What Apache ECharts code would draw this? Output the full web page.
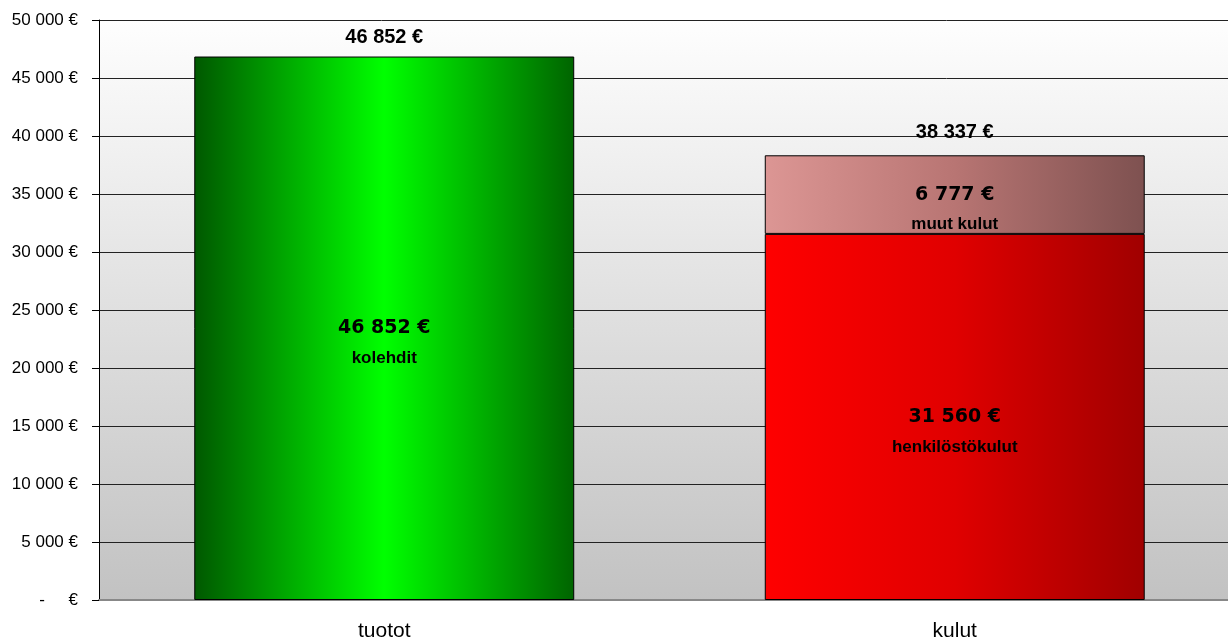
<!DOCTYPE html>
<html>
<head>
<meta charset="utf-8">
<script src="https://cdn.jsdelivr.net/npm/echarts@6/dist/echarts.min.js"></script>
<style>
html,body{margin:0;padding:0;background:#fff;}
#chart{width:1228px;height:643px;}
</style>
</head>
<body>
<div id="chart"></div>
<script>
const categories = ['tuotot', 'kulut'];
const kolehdit = [46852, null];
const henkilostokulut = [null, 31560];
const muutKulut = [null, 6777];
const totals = [46852, 38337];
const seriesNames = ['kolehdit', 'henkilöstökulut', 'muut kulut'];
const yMin = 0, yMax = 50000, yStep = 5000;

function fmt(n) {
  return String(n).replace(/\B(?=(\d{3})+(?!\d))/g, ' ') + ' €';
}

const chart = echarts.init(document.getElementById('chart'));

function grad(stops) {
  return new echarts.graphic.LinearGradient(0, 0, 1, 0, stops.map((c, i) => ({offset: i / (stops.length - 1), color: c})));
}

function innerLabel(name) {
  return {
    show: true,
    position: 'inside',
    offset: [0, 15],
    formatter: p => '{v|' + fmt(p.value) + '}\n{n|' + name + '}',
    rich: {
      v: {fontFamily: 'DejaVu Sans', fontWeight: 'bold', fontSize: 19, lineHeight: 30, color: '#000'},
      n: {fontFamily: 'Liberation Sans, Arial', fontWeight: 'bold', fontSize: 17, lineHeight: 30, color: '#000'}
    }
  };
}

const totalOffsets = [[0, -19], [0, -23]];

const option = {
  animation: false,
  backgroundColor: '#ffffff',
  grid: {
    left: 99, width: 1141, top: 20, bottom: 43,
    outerBoundsMode: 'none',
    containLabel: false,
    show: true,
    borderWidth: 0,
    backgroundColor: new echarts.graphic.LinearGradient(0, 0, 0, 1, [
      {offset: 0, color: '#fefefe'},
      {offset: 1, color: '#c2c2c2'}
    ])
  },
  xAxis: {
    type: 'category',
    data: categories,
    axisLine: {show: true, lineStyle: {color: '#888888', width: 2}},
    axisTick: {show: false},
    axisLabel: {fontFamily: 'Liberation Sans, Arial', fontSize: 21, color: '#000', margin: 21}
  },
  yAxis: {
    type: 'value',
    min: yMin, max: yMax, interval: yStep,
    axisLine: {show: true, lineStyle: {color: '#000', width: 1}},
    axisTick: {show: true, length: 7, lineStyle: {color: '#000'}},
    splitLine: {show: true, lineStyle: {color: '#222', width: 1}},
    axisLabel: {
      fontFamily: 'Liberation Sans, Arial', fontSize: 17, color: '#000', margin: 21,
      formatter: v => v === 0 ? '-     €' : fmt(v)
    }
  },
  series: [
    {
      name: seriesNames[0], type: 'bar', stack: 's', barWidth: '66.6%',
      data: kolehdit,
      itemStyle: {color: grad(['#005800', '#00ff00', '#006400']), borderColor: '#000', borderWidth: 1},
      label: innerLabel(seriesNames[0])
    },
    {
      name: seriesNames[1], type: 'bar', stack: 's', barWidth: '66.6%',
      data: henkilostokulut,
      itemStyle: {color: grad(['#ff0000', '#e00000', '#a00000']), borderColor: '#000', borderWidth: 1},
      label: innerLabel(seriesNames[1])
    },
    {
      name: seriesNames[2], type: 'bar', stack: 's', barWidth: '66.6%',
      data: muutKulut,
      itemStyle: {color: grad(['#dc9694', '#b87573', '#7e5150']), borderColor: '#000', borderWidth: 1},
      label: innerLabel(seriesNames[2])
    },
    {
      name: 'total', type: 'scatter', symbolSize: 1, z: 10,
      itemStyle: {color: '#000', opacity: 0},
      data: totals.map((v, i) => ({value: v, label: {offset: totalOffsets[i]}})),
      label: {
        show: true, position: 'inside', opacity: 1,
        formatter: p => fmt(p.value),
        fontFamily: 'Liberation Sans, Arial', fontWeight: 'bold', fontSize: 20, color: '#000'
      }
    }
  ]
};
chart.setOption(option);
</script>
</body>
</html>
